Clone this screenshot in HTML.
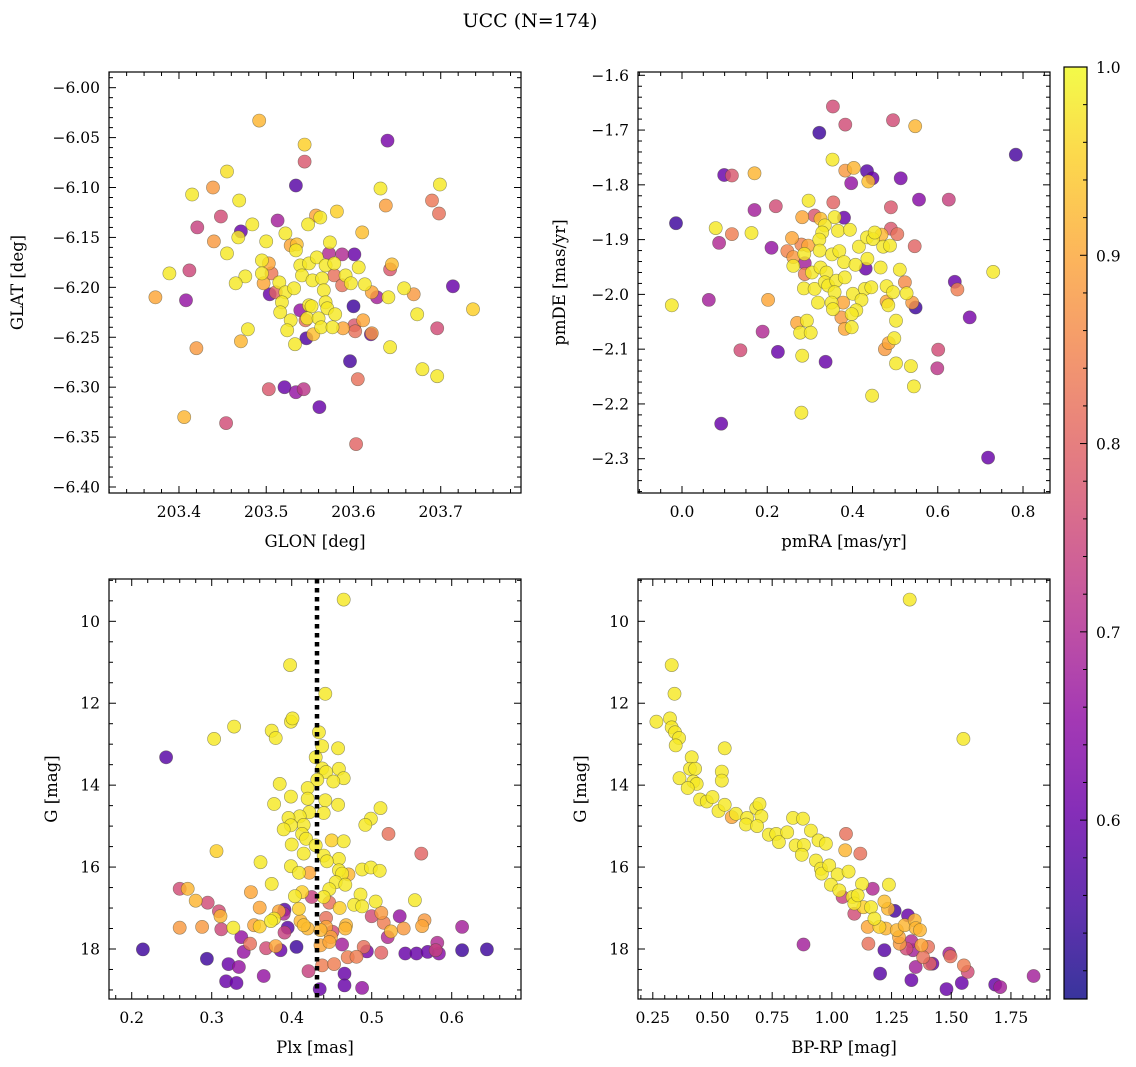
<!DOCTYPE html>
<html><head><meta charset="utf-8"><style>
html,body{margin:0;padding:0;background:#fff;}
svg{display:block;font-family:"DejaVu Serif","Liberation Serif",serif;}
</style></head><body>
<svg id="fig" width="1136" height="1067" viewBox="0 0 1136 1067" xmlns="http://www.w3.org/2000/svg">
<text x="530" y="27" text-anchor="middle" font-size="19">UCC (N=174)</text>
</svg>
<script>
// ---- data: panel 1 (GLON vs GLAT) ----
const p1Glon=[203.492,203.544,203.544,203.639,203.455,203.439,203.415,203.469,203.534,203.631,203.699,203.690,203.637,203.698,203.448,203.421,203.471,203.468,203.440,203.484,203.513,203.500,203.522,203.548,203.557,203.562,203.581,203.610,203.455,203.528,203.535,203.534,203.573,203.601,203.587,203.572,203.606,203.644,203.642,203.495,203.503,203.495,203.506,203.476,203.465,203.497,203.389,203.412,203.373,203.408,203.504,203.511,203.515,203.522,203.518,203.532,203.539,203.549,203.558,203.541,203.553,203.564,203.568,203.578,203.578,203.587,203.591,203.597,203.613,203.621,203.627,203.640,203.658,203.669,203.714,203.737,203.673,203.696,203.600,203.566,203.568,203.549,203.539,203.552,203.528,203.516,203.547,203.560,203.570,203.579,203.545,203.524,203.563,203.576,203.588,203.611,203.601,203.602,203.621,203.620,203.554,203.546,203.533,203.479,203.471,203.420,203.642,203.596,203.679,203.696,203.605,203.503,203.521,203.534,203.543,203.561,203.406,203.454,203.603];
const p1Glat=[-6.033,-6.057,-6.074,-6.053,-6.084,-6.100,-6.107,-6.113,-6.098,-6.101,-6.097,-6.113,-6.118,-6.126,-6.129,-6.140,-6.144,-6.150,-6.154,-6.137,-6.133,-6.154,-6.146,-6.137,-6.128,-6.130,-6.124,-6.145,-6.166,-6.158,-6.157,-6.163,-6.155,-6.167,-6.167,-6.166,-6.180,-6.177,-6.182,-6.173,-6.176,-6.186,-6.186,-6.189,-6.196,-6.196,-6.186,-6.183,-6.210,-6.213,-6.207,-6.205,-6.195,-6.205,-6.215,-6.201,-6.178,-6.176,-6.170,-6.188,-6.193,-6.191,-6.178,-6.176,-6.188,-6.198,-6.188,-6.196,-6.197,-6.205,-6.210,-6.210,-6.201,-6.207,-6.199,-6.222,-6.227,-6.241,-6.219,-6.203,-6.215,-6.218,-6.223,-6.219,-6.233,-6.225,-6.231,-6.231,-6.221,-6.227,-6.233,-6.243,-6.240,-6.240,-6.241,-6.233,-6.238,-6.244,-6.246,-6.247,-6.247,-6.251,-6.257,-6.242,-6.254,-6.261,-6.260,-6.274,-6.282,-6.289,-6.292,-6.302,-6.300,-6.305,-6.302,-6.320,-6.330,-6.336,-6.357];
const p1Prob=[.92,.95,.78,.62,.97,.88,.98,.98,.58,.98,.98,.83,.89,.82,.76,.74,.6,.98,.88,.98,.68,.98,.98,.98,.9,.98,.95,.93,.98,.9,.93,.98,.98,.6,.7,.7,.98,.93,.78,.98,.9,.98,.83,.98,.98,.9,.98,.75,.9,.66,.6,.8,.98,.98,.98,.98,.98,.98,.98,.98,.98,.98,.98,.98,.82,.82,.98,.98,.98,.9,.68,.98,.98,.88,.6,.95,.98,.76,.55,.98,.98,.98,.66,.98,.98,.98,.98,.98,.98,.98,.82,.98,.98,.98,.9,.9,.78,.82,.88,.6,.93,.57,.98,.98,.92,.88,.98,.56,.98,.98,.82,.78,.6,.66,.72,.6,.92,.76,.8];
// ---- data: panel 2 (pmRA vs pmDE) ----
const p2Pmra=[0.354,0.383,0.495,0.547,0.322,0.783,0.353,0.383,0.403,0.434,0.447,0.437,0.397,0.513,0.556,0.626,0.099,0.117,0.170,0.297,0.355,0.490,0.170,0.220,-0.014,0.079,0.087,0.117,0.163,0.210,0.282,0.311,0.325,0.358,0.380,0.335,0.366,0.394,0.329,0.258,0.247,0.261,0.280,0.296,0.287,0.322,0.323,0.352,0.369,0.415,0.434,0.448,0.452,0.468,0.472,0.488,0.490,0.505,0.546,0.288,0.261,0.288,0.305,0.325,0.339,0.380,0.407,0.435,0.431,0.466,0.511,0.730,0.640,0.646,0.523,0.286,0.311,0.335,0.343,0.362,0.382,0.358,0.401,0.429,0.444,0.480,0.495,0.527,0.319,0.351,0.378,0.421,0.480,0.484,0.540,0.548,-0.024,0.063,0.202,0.354,0.409,0.374,0.398,0.675,0.270,0.293,0.277,0.302,0.382,0.398,0.502,0.498,0.485,0.476,0.189,0.137,0.225,0.282,0.337,0.502,0.537,0.601,0.599,0.544,0.446,0.280,0.092,0.718];
const p2Pmde=[-1.657,-1.690,-1.682,-1.693,-1.705,-1.745,-1.754,-1.774,-1.769,-1.775,-1.788,-1.794,-1.797,-1.788,-1.827,-1.827,-1.782,-1.783,-1.779,-1.829,-1.832,-1.841,-1.846,-1.839,-1.870,-1.879,-1.906,-1.890,-1.888,-1.915,-1.859,-1.856,-1.862,-1.859,-1.860,-1.874,-1.884,-1.882,-1.887,-1.897,-1.921,-1.932,-1.909,-1.911,-1.926,-1.900,-1.920,-1.927,-1.921,-1.913,-1.896,-1.899,-1.887,-1.891,-1.913,-1.911,-1.880,-1.890,-1.912,-1.943,-1.948,-1.963,-1.960,-1.951,-1.960,-1.941,-1.946,-1.935,-1.953,-1.951,-1.955,-1.959,-1.977,-1.991,-1.978,-1.989,-1.990,-1.978,-1.984,-1.975,-1.969,-1.996,-1.999,-1.990,-1.987,-1.985,-1.996,-1.998,-2.015,-2.015,-2.015,-2.010,-2.013,-2.020,-2.015,-2.024,-2.020,-2.010,-2.010,-2.027,-2.029,-2.042,-2.036,-2.042,-2.052,-2.048,-2.070,-2.070,-2.063,-2.060,-2.048,-2.080,-2.089,-2.100,-2.068,-2.102,-2.105,-2.112,-2.123,-2.126,-2.131,-2.101,-2.135,-2.168,-2.185,-2.216,-2.236,-2.298];
const p2Prob=[.76,.76,.76,.92,.55,.56,.98,.88,.92,.58,.6,.93,.66,.62,.64,.74,.6,.78,.92,.98,.8,.78,.68,.76,.55,.98,.7,.84,.98,.66,.9,.78,.93,.98,.6,.98,.98,.98,.98,.9,.85,.88,.85,.9,.98,.98,.98,.98,.98,.98,.98,.98,.98,.92,.98,.98,.78,.82,.8,.68,.98,.84,.98,.98,.98,.98,.98,.98,.6,.98,.98,.98,.6,.84,.86,.98,.98,.98,.98,.98,.98,.98,.98,.98,.98,.98,.98,.98,.98,.98,.9,.98,.9,.98,.88,.55,.98,.68,.9,.98,.98,.88,.98,.62,.9,.98,.98,.98,.9,.98,.98,.98,.9,.88,.7,.76,.6,.98,.6,.98,.98,.76,.72,.98,.98,.98,.6,.6];
// ---- data: panel 3 (Plx vs G) ----
const p3Plx=[0.465,0.398,0.442,0.399,0.401,0.328,0.303,0.375,0.380,0.243,0.434,0.438,0.458,0.430,0.438,0.443,0.459,0.465,0.452,0.432,0.385,0.420,0.399,0.420,0.442,0.378,0.458,0.440,0.422,0.410,0.396,0.511,0.499,0.492,0.415,0.399,0.390,0.413,0.418,0.400,0.430,0.450,0.465,0.521,0.562,0.306,0.415,0.440,0.459,0.444,0.361,0.399,0.409,0.422,0.459,0.463,0.471,0.488,0.499,0.510,0.455,0.467,0.447,0.375,0.349,0.260,0.270,0.280,0.295,0.309,0.311,0.404,0.413,0.425,0.440,0.447,0.486,0.478,0.488,0.505,0.554,0.460,0.409,0.360,0.384,0.391,0.390,0.378,0.374,0.443,0.500,0.512,0.515,0.535,0.566,0.563,0.613,0.260,0.288,0.312,0.327,0.353,0.360,0.395,0.391,0.411,0.415,0.420,0.436,0.451,0.443,0.468,0.467,0.524,0.520,0.540,0.449,0.337,0.348,0.380,0.368,0.340,0.386,0.406,0.436,0.447,0.463,0.490,0.494,0.512,0.582,0.580,0.542,0.556,0.570,0.584,0.613,0.644,0.214,0.294,0.321,0.334,0.470,0.481,0.438,0.453,0.421,0.466,0.365,0.318,0.331,0.466,0.488,0.435];
const p3G=[9.47,11.07,11.77,12.45,12.37,12.57,12.87,12.67,12.85,13.32,12.71,13.05,13.10,13.32,13.59,13.68,13.60,13.83,13.91,13.87,13.97,14.07,14.28,14.33,14.37,14.46,14.48,14.68,14.66,14.76,14.80,14.56,14.82,14.97,14.97,14.98,15.08,15.19,15.31,15.45,15.47,15.35,15.37,15.19,15.67,15.61,15.67,15.72,15.80,15.86,15.88,15.98,16.14,16.14,16.08,16.16,16.18,16.06,16.01,16.09,16.37,16.43,16.54,16.41,16.61,16.53,16.53,16.82,16.87,17.08,17.20,16.71,16.61,16.73,16.73,16.87,16.67,16.92,16.96,16.84,16.81,17.00,17.02,16.99,17.08,17.04,17.14,17.26,17.32,17.24,17.20,17.12,17.36,17.20,17.30,17.44,17.46,17.48,17.46,17.52,17.48,17.42,17.45,17.48,17.60,17.32,17.42,17.50,17.54,17.58,17.46,17.42,17.50,17.57,17.71,17.50,17.71,17.71,17.87,17.93,17.98,18.07,18.03,17.95,17.91,17.83,17.89,17.95,18.06,18.09,17.85,18.03,18.11,18.11,18.07,18.11,18.03,18.01,18.01,18.24,18.37,18.44,18.20,18.19,18.40,18.37,18.54,18.60,18.66,18.79,18.83,18.89,18.95,18.98];
const p3Prob=[.98,.98,.98,.98,.98,.98,.98,.98,.98,.58,.98,.98,.98,.98,.98,.98,.98,.98,.98,.98,.98,.98,.98,.98,.98,.98,.98,.98,.98,.98,.98,.98,.98,.98,.98,.98,.98,.98,.98,.98,.98,.95,.98,.82,.8,.95,.98,.98,.98,.98,.98,.98,.98,.9,.98,.98,.92,.98,.98,.98,.98,.98,.98,.98,.9,.76,.92,.92,.76,.76,.92,.98,.95,.74,.98,.82,.98,.98,.98,.98,.98,.95,.95,.9,.9,.58,.7,.98,.98,.82,.76,.88,.84,.66,.88,.9,.68,.88,.88,.75,.98,.9,.95,.58,.74,.92,.93,.92,.92,.76,.9,.92,.92,.92,.7,.88,.9,.66,.82,.9,.76,.66,.6,.55,.9,.9,.68,.82,.62,.8,.7,.74,.6,.6,.6,.64,.55,.55,.55,.55,.6,.66,.84,.84,.84,.84,.74,.6,.66,.6,.6,.6,.66,.6];
// ---- data: panel 4 (BP-RP vs G) ----
const p4Bprp=[1.326,0.329,0.341,0.265,0.322,0.329,0.343,0.360,0.346,0.551,1.551,0.413,0.406,0.427,0.539,0.539,0.362,0.420,0.434,0.396,0.448,0.476,0.500,0.525,0.551,0.581,0.598,0.645,0.640,0.683,0.697,0.705,0.687,0.736,0.767,0.778,0.813,0.837,0.879,0.912,0.848,0.883,0.874,0.944,0.975,0.933,0.954,0.958,0.989,1.024,1.070,1.059,1.056,1.119,0.996,1.031,1.045,1.087,1.126,1.171,1.239,1.094,1.108,1.094,1.132,1.164,1.220,1.235,1.263,1.319,1.178,1.150,1.199,1.226,1.272,1.281,1.305,1.347,1.351,1.369,1.284,1.333,1.312,1.340,1.375,1.403,1.382,1.410,1.421,1.153,1.220,0.881,1.351,1.202,1.333,1.492,1.497,1.553,1.569,1.544,1.480,1.684,1.705,1.845];
const p4G=[9.47,11.07,11.77,12.45,12.37,12.59,12.71,12.85,13.03,13.10,12.87,13.32,13.60,13.60,13.67,13.89,13.83,13.91,13.97,14.07,14.35,14.40,14.29,14.63,14.48,14.78,14.70,14.80,14.96,14.56,14.46,14.76,15.00,15.21,15.19,15.39,15.15,14.80,14.82,15.11,15.47,15.46,15.70,15.35,15.43,15.84,16.04,16.16,15.96,16.18,16.11,15.19,15.59,15.67,16.43,16.57,16.73,16.73,16.41,16.53,16.43,16.89,16.69,17.14,16.98,16.98,16.84,17.02,17.07,17.18,17.26,17.46,17.46,17.50,17.54,17.71,17.42,17.30,17.49,17.54,17.87,17.81,17.99,18.03,17.91,17.95,18.20,18.36,18.36,17.87,18.03,17.89,18.44,18.60,18.76,18.11,18.18,18.40,18.56,18.83,18.98,18.87,18.93,18.66];
const p4Prob=[.98,.98,.98,.98,.98,.98,.98,.98,.98,.98,.98,.98,.98,.98,.98,.98,.98,.98,.98,.98,.98,.98,.98,.98,.98,.9,.98,.98,.98,.98,.98,.98,.98,.98,.98,.98,.98,.98,.98,.98,.98,.98,.98,.98,.98,.98,.98,.98,.98,.98,.98,.82,.92,.82,.98,.98,.74,.98,.98,.7,.98,.98,.98,.76,.95,.98,.93,.92,.56,.6,.98,.9,.95,.92,.92,.9,.92,.92,.92,.92,.88,.7,.76,.68,.9,.82,.82,.8,.6,.82,.58,.68,.68,.58,.6,.68,.82,.84,.76,.6,.6,.6,.68,.68];
// ---- tick labels ----
const p1XTicks=[203.4,203.5,203.6,203.7];
const p1YTicks=[-6.00,-6.05,-6.10,-6.15,-6.20,-6.25,-6.30,-6.35,-6.40];
const p2XTicks=[0.0,0.2,0.4,0.6,0.8];
const p2YTicks=[-1.6,-1.7,-1.8,-1.9,-2.0,-2.1,-2.2,-2.3];
const p3XTicks=[0.2,0.3,0.4,0.5,0.6];
const gTicks=[10,12,14,16,18];
const p4XTicks=[0.25,0.50,0.75,1.00,1.25,1.50,1.75];
const cbTicks=[0.6,0.7,0.8,0.9,1.0];
const plxMedian=0.4316;

const NS='http://www.w3.org/2000/svg';
const svg=document.getElementById('fig');
function mk(tag,attrs,parent){const e=document.createElementNS(NS,tag);for(const k in attrs)e.setAttribute(k,attrs[k]);(parent||svg).appendChild(e);return e;}
const stops=[[13,8,135],[65,4,157],[106,0,168],[143,13,164],[177,42,144],[204,71,120],[225,100,98],[242,132,75],[252,166,54],[252,206,37],[240,249,33]];
const VMIN=0.505,VMAX=1.0;
function plasma(t){t=Math.max(0,Math.min(1,t));const f=t*10,i=Math.min(9,Math.floor(f)),u=f-i;const a=stops[i],b=stops[i+1];return 'rgb('+[0,1,2].map(k=>Math.round(a[k]+(b[k]-a[k])*u)).join(',')+')';}
function fmt(v,d){const s=Math.abs(v).toFixed(d);return (v<0?'\u2212':'')+s;}

function panel(cfg){
  const g=mk('g',{});
  
  
  const sx=v=>cfg.x0+(v-cfg.xd[0])/(cfg.xd[1]-cfg.xd[0])*(cfg.x1-cfg.x0);
  const sy=v=>cfg.y0+(v-cfg.yd[0])/(cfg.yd[1]-cfg.yd[0])*(cfg.y1-cfg.y0);
  // points sorted by prob
  const n=Math.min(cfg.xs.length,cfg.ys.length,cfg.ps.length);
  const idx=[...Array(n).keys()].sort((a,b)=>cfg.ps[a]-cfg.ps[b]);
  const pg=mk('g',{},g);
  
  
  idx.forEach(i=>{
    const c=mk('circle',{cx:sx(cfg.xs[i]).toFixed(1),cy:sy(cfg.ys[i]).toFixed(1),r:6.6,fill:plasma((cfg.ps[i]-VMIN)/(VMAX-VMIN)),'fill-opacity':0.82,stroke:'rgba(70,70,50,0.55)','stroke-width':0.6},pg);
    
    
  });
  if(cfg.vline!==undefined){
    const l=mk('line',{x1:sx(cfg.vline),x2:sx(cfg.vline),y1:cfg.y0,y2:cfg.y1,stroke:'#000','stroke-width':4.5,'stroke-dasharray':'4.5 4.5'},g);
    
    
  }
  // ticks
  const tk=mk('g',{stroke:'#000','stroke-width':1},g);
  const lo=(a,b)=>Math.min(a,b),hi=(a,b)=>Math.max(a,b);
  const xa=lo(cfg.xd[0],cfg.xd[1]),xb=hi(cfg.xd[0],cfg.xd[1]);
  const ya=lo(cfg.yd[0],cfg.yd[1]),yb=hi(cfg.yd[0],cfg.yd[1]);
  for(let k=Math.ceil(xa/cfg.xminor-1e-6);k*cfg.xminor<=xb+1e-9;k++){
    const v=k*cfg.xminor,x=sx(v);const major=Math.abs(v/cfg.xmajor-Math.round(v/cfg.xmajor))<1e-4;const L=major?7:4;
    mk('line',{x1:x,x2:x,y1:cfg.y1,y2:cfg.y1-L},tk);mk('line',{x1:x,x2:x,y1:cfg.y0,y2:cfg.y0+L},tk);
  }
  for(let k=Math.ceil(ya/cfg.yminor-1e-6);k*cfg.yminor<=yb+1e-9;k++){
    const v=k*cfg.yminor,y=sy(v);const major=Math.abs(v/cfg.ymajor-Math.round(v/cfg.ymajor))<1e-4;const L=major?7:4;
    mk('line',{x1:cfg.x0,x2:cfg.x0+L,y1:y,y2:y},tk);mk('line',{x1:cfg.x1,x2:cfg.x1-L,y1:y,y2:y},tk);
  }
  const fr=mk('rect',{x:cfg.x0,y:cfg.y0,width:cfg.x1-cfg.x0,height:cfg.y1-cfg.y0,fill:'none',stroke:'#000','stroke-width':1.2},g);
  
  
  cfg.xt.forEach(v=>{
    const t=mk('text',{x:sx(v),y:cfg.y1+24,'text-anchor':'middle','font-size':15.5},g);t.textContent=fmt(v,cfg.xdec);
    
    
  });
  cfg.yt.forEach(v=>{
    const t=mk('text',{x:cfg.x0-9,y:sy(v)+5.5,'text-anchor':'end','font-size':15.5},g);t.textContent=fmt(v,cfg.ydec);
    
    
  });
  const xl=mk('text',{x:(cfg.x0+cfg.x1)/2,y:cfg.y1+54,'text-anchor':'middle','font-size':16.5},g);xl.textContent=cfg.xlabel;
  
  
  const yc=(cfg.y0+cfg.y1)/2;
  const yl=mk('text',{x:cfg.ylx,y:yc,'text-anchor':'middle','font-size':16.5,transform:'rotate(-90 '+cfg.ylx+' '+yc+')'},g);yl.textContent=cfg.ylabel;
  
  
}

panel({name:'glon-glat-panel',x0:109,x1:521,y0:72,y1:493,xd:[203.3198,203.792],yd:[-5.9843,-6.406],xs:p1Glon,ys:p1Glat,ps:p1Prob,xminor:0.02,xmajor:0.1,yminor:0.01,ymajor:0.05,xt:p1XTicks,yt:p1YTicks,xdec:1,ydec:2,xlabel:'GLON [deg]',ylabel:'GLAT [deg]',ylx:23});
panel({name:'pm-panel',x0:638,x1:1050,y0:72,y1:493,xd:[-0.1032,0.8633],yd:[-1.594,-2.3626],xs:p2Pmra,ys:p2Pmde,ps:p2Prob,xminor:0.05,xmajor:0.2,yminor:0.02,ymajor:0.1,xt:p2XTicks,yt:p2YTicks,xdec:1,ydec:1,xlabel:'pmRA [mas/yr]',ylabel:'pmDE [mas/yr]',ylx:565});
panel({name:'plx-g-panel',x0:109,x1:521,y0:579,y1:999,xd:[0.1716,0.6866],yd:[8.967,19.221],xs:p3Plx,ys:p3G,ps:p3Prob,xminor:0.02,xmajor:0.1,yminor:0.5,ymajor:2,xt:p3XTicks,yt:gTicks,xdec:1,ydec:0,xlabel:'Plx [mas]',ylabel:'G [mag]',ylx:57,vline:plxMedian});
panel({name:'cmd-panel',x0:638,x1:1050,y0:579,y1:999,xd:[0.188,1.9136],yd:[8.967,19.221],xs:p4Bprp,ys:p4G,ps:p4Prob,xminor:0.05,xmajor:0.25,yminor:0.5,ymajor:2,xt:p4XTicks,yt:gTicks,xdec:2,ydec:0,xlabel:'BP-RP [mag]',ylabel:'G [mag]',ylx:586});

// colorbar
(function(){
  const cx0=1064,cx1=1087,cy0=67,cy1=999;
  const g=mk('g',{});
  
  
  const defs=mk('defs',{},g);
  const lg=mk('linearGradient',{id:'cbg',x1:0,y1:1,x2:0,y2:0},defs);
  for(let i=0;i<=20;i++){mk('stop',{offset:i/20,'stop-color':plasma(i/20)},lg);}
  mk('rect',{x:cx0,y:cy0,width:cx1-cx0,height:cy1-cy0,fill:'url(#cbg)','fill-opacity':0.82},g);
  const sy=v=>cy1-(v-VMIN)/(VMAX-VMIN)*(cy1-cy0);
  for(let k=26;k<=50;k++){const v=k*0.02;if(v<VMIN||v>VMAX+1e-9)continue;const y=sy(v);const major=(k%5===0);mk('line',{x1:cx1,x2:cx1-(major?7:4),y1:y,y2:y,stroke:'#000','stroke-width':1},g);}
  mk('rect',{x:cx0,y:cy0,width:cx1-cx0,height:cy1-cy0,fill:'none',stroke:'#000','stroke-width':1.2},g);
  cbTicks.forEach(v=>{
    const t=mk('text',{x:cx1+9,y:sy(v)+6,'font-size':15.5},g);t.textContent=v.toFixed(1);
    
    
  });
})();
</script>
</body></html>
